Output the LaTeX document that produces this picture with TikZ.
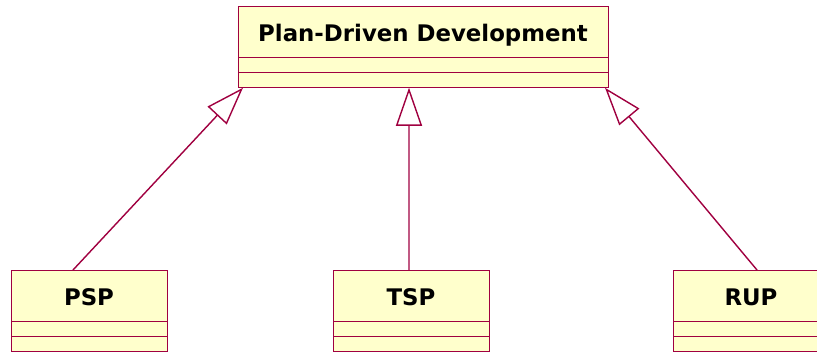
\documentclass[tikz,border=0pt]{standalone}
\usepackage{fontspec}
\setmainfont{DejaVu Sans}
\usetikzlibrary{arrows.meta,shapes.multipart}
\definecolor{umlline}{RGB}{160,0,64}
\definecolor{umlfill}{RGB}{255,255,204}
\begin{document}
\begin{tikzpicture}
[x=0.03cm,y=-0.03cm,
 classdecorate/.style={shape=rectangle split,rectangle split parts=3,
   color=umlline,text=black,line width=0.8pt,fill=umlfill,draw,
   inner xsep=4pt,inner ysep=0pt,
   rectangle split empty part height=0.42cm,rectangle split empty part depth=0pt,
   anchor=north,font=\bfseries\fontsize{19.5}{22}\selectfont},
 linedecorate/.style={-{Triangle[open,length=1.14cm,width=0.78cm]},draw=umlline,line width=1.2pt}]
\useasboundingbox (0,0) rectangle (817,353);
\clip (0,0) rectangle (817,353);
%% classes
\node (pdd) at (423,6) [classdecorate,minimum width=11.1cm]
  {\rule[-0.46cm]{0pt}{1.5cm}Plan-Driven Development};
\foreach \nodename/\x/\txt in {psp/89/PSP, tsp/411/TSP, rup/751/RUP} {
  \node (\nodename) at (\x,270) [classdecorate,minimum width=4.68cm]
    {\rule[-0.46cm]{0pt}{1.5cm}\txt};
}
%% generalizations
\path
\foreach \startnode/\sx/\ex in {psp/-0.48cm/-5.4cm, tsp/-0.06cm/-0.42cm,
  rup/0.18cm/5.46cm} {
  ([xshift=\sx]\startnode.north) edge[linedecorate] ([xshift=\ex]pdd.south)
};
\end{tikzpicture}
\end{document}
